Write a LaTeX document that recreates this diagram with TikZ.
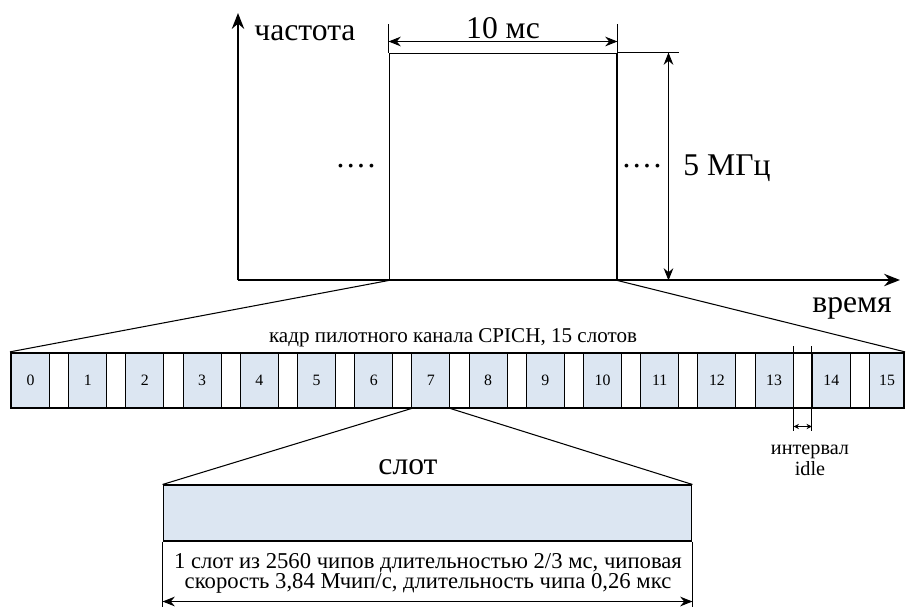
\documentclass[tikz,border=0pt]{standalone}
\usepackage{fontspec}
\setmainfont{Liberation Serif}
\usetikzlibrary{arrows.meta}
\definecolor{slotblue}{RGB}{220,230,242}

\begin{document}
\begin{tikzpicture}[x=0.02cm, y=-0.02cm,
  big/.style={font=\fontsize{18}{20}\selectfont, inner sep=0pt},
  mid/.style={font=\fontsize{12}{11.5}\selectfont, inner sep=0pt},
  ln/.style={line width=0.6pt},
  axis/.style={-{Stealth[length=9pt, width=7pt]}, line width=1.3pt},
  dimarr/.style={{Stealth[length=7pt, width=5.5pt]}-{Stealth[length=7pt, width=5.5pt]}, ln},
  idlearr/.style={{Stealth[length=3pt, width=3pt]}-{Stealth[length=3pt, width=3pt]}, ln},
  cell/.style={draw, ln, fill=slotblue, minimum height=1.1cm, inner sep=0pt,
               anchor=west, font=\fontsize{9}{10}\selectfont}
]
  \useasboundingbox (0,0) rectangle (906,606);

  \node[draw, ln, minimum width=4.56cm, minimum height=4.54cm] (band) at (503,166.5) {};

  \coordinate (orig) at (238,280);
  \coordinate (ftop) at (238,13);
  \coordinate (tend) at (900,280);
  \draw[axis] (orig) -- (ftop);
  \draw[axis] (orig) -- (tend);
  \node[big] (freq) at (305,33) {частота};
  \node[big] (time) at (852,308) {время};

  \draw[ln] (band.north west) -- ++(0,-29);
  \draw[ln] (band.north east) -- ++(0,-29);
  \draw[dimarr] ([yshift=0.22cm]band.north west) -- ([yshift=0.22cm]band.north east);
  \node[big] (tlen) at (503,28) {10 мс};
  \draw[ln] (band.north east) -- ++(61,0);
  \draw[dimarr] ([xshift=1.02cm]band.north east) -- ([xshift=1.02cm]band.south east);
  \node[big] (bw) at (727,168) {5 МГц};
  \node[big] (dotsl) at (356,166) {.\kern1.4pt.\kern1.4pt.\kern1.4pt.};
  \node[big] (dotsr) at (642,166) {.\kern1.4pt.\kern1.4pt.\kern1.4pt.};

  \foreach \i in {0,...,15} {
    \pgfmathsetmacro\w{ifthenelse(\i==15,0.70,0.76)}
    \node[cell, minimum width=\w cm] (c\i) at (11+57.2*\i,380.5) {\i};
  }
  \node[draw, line width=1.3pt, minimum width=17.86cm, minimum height=1.1cm, inner sep=0pt] (frame) at (457.5,380.5) {};
  \node[mid] (ftitle) at (453,338) {кадр пилотного канала CPICH, 15 слотов};

  \draw[ln] (band.south west) -- (frame.north west);
  \draw[ln] (band.south east) -- (frame.north east);

  \draw[ln] ([yshift=0.12cm]c13.north east) -- ([yshift=-0.44cm]c13.south east);
  \draw[ln] ([yshift=0.12cm]c14.north west) -- ([yshift=-0.44cm]c14.south west);
  \draw[idlearr] ([yshift=-0.36cm]c13.south east) -- ([yshift=-0.36cm]c14.south west);
  \node[mid, align=center, font=\fontsize{11.5}{12}\selectfont] (idle) at (810,460.5) {интервал\\idle};

  \node[draw, ln, fill=slotblue, minimum width=10.58cm, minimum height=1.12cm, inner sep=0pt] (slot) at (427.5,513) {};
  \draw[ln] (c7.south west) -- (slot.north west);
  \draw[ln] (c7.south east) -- (slot.north east);
  \node[big] (slotlbl) at (408,467) {слот};
  \draw[ln] (slot.south west) -- ++(0,66);
  \draw[ln] (slot.south east) -- ++(0,66);
  \draw[dimarr] ([yshift=-1.2cm]slot.south west) -- ([yshift=-1.2cm]slot.south east);
  \node[mid, align=center, font=\fontsize{12.9}{11.5}\selectfont] (slottxt) at (428,573) {1 слот из 2560 чипов длительностью 2/3 мс, чиповая\\скорость 3,84 Мчип/с, длительность чипа 0,26 мкс};
\end{tikzpicture}
\end{document}
